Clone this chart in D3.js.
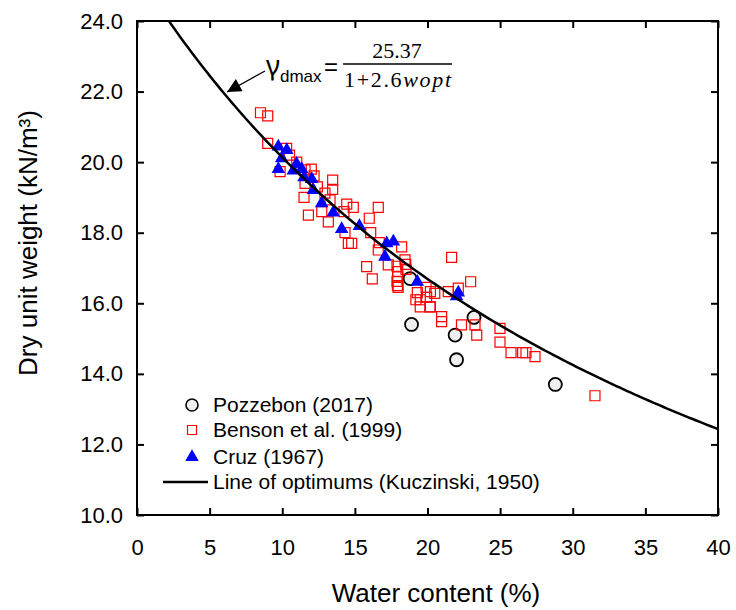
<!DOCTYPE html>
<html>
<head>
<meta charset="utf-8">
<script src="https://cdn.jsdelivr.net/npm/d3@7"></script>
<style>
  html, body { margin: 0; padding: 0; background: #fff; }
  svg { display: block; }
  text { fill: #000; }
</style>
</head>
<body>
<svg id="chart" width="736" height="610"></svg>
<script>
// Axis ticks
const xTicks = [0, 5, 10, 15, 20, 25, 30, 35, 40];
const yTicks = [10, 12, 14, 16, 18, 20, 22, 24];

// Pozzebon (2017): optimum water content (%) and max dry unit weight (kN/m3)
const pozzebonW = [18.8, 18.9, 21.9, 22.0, 23.2, 28.8];
const pozzebonG = [16.7, 15.4, 15.1, 14.4, 15.6, 13.7];

// Benson et al. (1999)
const bensonW = [8.5, 9.0, 9.0, 10.3, 9.85, 10.5, 11.57, 12.19, 11.57, 12.42,
  13.47, 13.47, 11.5, 12.94, 13.29, 14.44, 14.89, 16.61, 11.8, 12.72,
  13.17, 15.99, 14.25, 14.55, 14.78, 16.09, 16.61, 18.22, 18.45, 15.81,
  17.3, 14.32, 16.68, 16.2, 17.9, 17.95, 17.95, 17.9, 17.93, 17.98,
  18.52, 18.5, 21.66, 22.97, 19.9, 20.2, 20.5, 19.3, 19.2, 19.5,
  19.94, 19.5, 20.2, 21.43, 22.12, 20.97, 20.97, 22.34, 23.27, 23.39,
  24.99, 24.99, 25.75, 26.55, 26.78, 27.4, 31.53, 20.17, 12.0, 11.0];
const bensonG = [21.4, 21.31, 20.53, 20.39, 19.73, 20.2, 19.78, 19.61, 19.4, 19.3,
  19.49, 19.23, 19.0, 19.12, 18.93, 18.81, 18.72, 18.72, 18.5, 18.6,
  18.31, 18.41, 18.6, 17.7, 17.7, 18.0, 17.51, 17.6, 17.23, 17.04,
  17.09, 18.0, 17.72, 16.69, 17.05, 16.9, 16.75, 16.62, 16.5, 16.45,
  16.96, 17.1, 17.3, 16.61, 16.45, 16.33, 16.28, 16.3, 16.1, 16.1,
  16.17, 15.9, 15.9, 16.33, 16.43, 15.62, 15.48, 15.39, 15.39, 15.1,
  15.29, 14.9, 14.6, 14.6, 14.6, 14.49, 13.38, 15.9, 19.8, 20.0];

// Cruz (1967)
const cruzW = [9.73, 10.31, 9.96, 9.73, 10.99, 11.34, 10.76, 11.5, 12.03, 12.14,
  12.71, 13.51, 14.09, 15.31, 17.19, 17.65, 17.07, 19.3, 22.12, 22.0];
const cruzG = [20.44, 20.34, 20.11, 19.8, 19.95, 19.8, 19.76, 19.57, 19.52, 19.21,
  18.83, 18.57, 18.1, 18.19, 17.7, 17.75, 17.32, 16.61, 16.3, 16.2];

// Line of optimums (Kuczinski, 1950): gamma_dmax = 25.37 / (1 + 2.6 w_opt)
const optNum = 25.37;
const optCoef = 2.6;

const SANS = "'Liberation Sans', Arial, sans-serif";
const SERIF = "'Liberation Serif', 'DejaVu Serif', serif";

const svg = d3.select("#chart");
const plotL = 137, plotR = 718, plotT = 21, plotB = 515;

const x = d3.scaleLinear().domain([0, 40]).range([plotL, plotR]);
const y = d3.scaleLinear().domain([10, 24]).range([plotB, plotT]);

const fmtY = d3.format(".1f");

function styleTicks(g) {
  g.select(".domain").remove();
  g.selectAll("line").attr("stroke-width", 2);
  g.selectAll("text")
    .style("font-family", SANS)
    .style("font-size", "22px")
    .attr("fill", "#000");
}

// Axes with inward ticks on all four sides
svg.append("g")
  .attr("transform", `translate(0,${plotB})`)
  .call(d3.axisBottom(x).tickValues(xTicks).tickSizeInner(-7).tickSizeOuter(0).tickPadding(24))
  .call(styleTicks);

svg.append("g")
  .attr("transform", `translate(0,${plotT})`)
  .call(d3.axisTop(x).tickValues(xTicks).tickSizeInner(-7).tickSizeOuter(0).tickFormat(""))
  .call(styleTicks);

svg.append("g")
  .attr("transform", `translate(${plotL},0)`)
  .call(d3.axisLeft(y).tickValues(yTicks).tickSizeInner(-7).tickSizeOuter(0).tickPadding(14).tickFormat(fmtY))
  .call(styleTicks);

svg.append("g")
  .attr("transform", `translate(${plotR},0)`)
  .call(d3.axisRight(y).tickValues(yTicks).tickSizeInner(-7).tickSizeOuter(0).tickFormat(""))
  .call(styleTicks);

// Plot frame
svg.append("rect")
  .attr("x", plotL).attr("y", plotT)
  .attr("width", plotR - plotL).attr("height", plotB - plotT)
  .attr("fill", "none").attr("stroke", "#000").attr("stroke-width", 2);

// Clip for the curve
svg.append("clipPath").attr("id", "plotClip")
  .append("rect").attr("x", plotL).attr("y", plotT)
  .attr("width", plotR - plotL).attr("height", plotB - plotT);

// Pozzebon circles
svg.append("g").selectAll("circle")
  .data(d3.zip(pozzebonW, pozzebonG))
  .join("circle")
  .attr("cx", d => x(d[0])).attr("cy", d => y(d[1]))
  .attr("r", 6.5)
  .attr("fill", "#efefef").attr("stroke", "#000").attr("stroke-width", 1.8);

// Benson squares
const sq = d3.symbol().type(d3.symbolSquare).size(100);
svg.append("g").selectAll("path")
  .data(d3.zip(bensonW, bensonG))
  .join("path")
  .attr("d", sq)
  .attr("transform", d => `translate(${x(d[0])},${y(d[1])})`)
  .attr("fill", "none").attr("stroke", "#ff0000").attr("stroke-width", 1.2);

// Cruz triangles
const tri = d3.symbol().type(d3.symbolTriangle).size(80);
svg.append("g").selectAll("path")
  .data(d3.zip(cruzW, cruzG))
  .join("path")
  .attr("d", tri)
  .attr("transform", d => `translate(${x(d[0])},${y(d[1])})`)
  .attr("fill", "#0000ff");

// Line of optimums
const wSamples = d3.range(0, 40.01, 0.25);
const line = d3.line()
  .x(w => x(w))
  .y(w => y(optNum / (1 + optCoef * w / 100)));
svg.append("path")
  .datum(wSamples)
  .attr("d", line)
  .attr("clip-path", "url(#plotClip)")
  .attr("fill", "none").attr("stroke", "#000").attr("stroke-width", 2.5);

// Equation annotation with arrow
svg.append("defs").append("marker")
  .attr("id", "arrowHead")
  .attr("viewBox", "0 0 10 10")
  .attr("refX", 10).attr("refY", 5)
  .attr("markerWidth", 17).attr("markerHeight", 14)
  .attr("markerUnits", "userSpaceOnUse")
  .attr("orient", "auto")
  .append("path").attr("d", "M0,0 L10,5 L0,10 Z").attr("fill", "#000");

svg.append("line")
  .attr("x1", 265).attr("y1", 71)
  .attr("x2", 227).attr("y2", 92)
  .attr("stroke", "#000").attr("stroke-width", 1.3)
  .attr("marker-end", "url(#arrowHead)");

const eq = svg.append("g");
eq.append("text").attr("x", 266).attr("y", 75)
  .style("font-family", "'Noto Sans', 'DejaVu Sans', sans-serif")
  .style("font-size", "27px").text("γ");
eq.append("text").attr("x", 280).attr("y", 82)
  .style("font-family", SANS)
  .style("font-size", "17px").text("dmax");
eq.append("text").attr("x", 324).attr("y", 75)
  .style("font-family", SANS)
  .style("font-size", "24px").text("=");
eq.append("line").attr("x1", 343).attr("x2", 452).attr("y1", 64).attr("y2", 64)
  .attr("stroke", "#000").attr("stroke-width", 1.3);
eq.append("text").attr("x", 397).attr("y", 58)
  .attr("text-anchor", "middle")
  .style("font-family", SERIF)
  .style("font-size", "22px").text("25.37");
const den = eq.append("text").attr("x", 344).attr("y", 87)
  .style("font-family", SERIF)
  .style("font-size", "22px")
  .attr("textLength", 107).attr("lengthAdjust", "spacing");
den.append("tspan").text("1+2.6");
den.append("tspan").style("font-style", "italic").text("wopt");

// Legend
const legend = svg.append("g");
const lx = 192, tx = 213;
const rows = [405, 430, 457, 482];
legend.append("circle").attr("cx", lx).attr("cy", rows[0]).attr("r", 6)
  .attr("fill", "#efefef").attr("stroke", "#000").attr("stroke-width", 1.6);
legend.append("path").attr("d", d3.symbol().type(d3.symbolSquare).size(81))
  .attr("transform", `translate(${lx},${rows[1]})`)
  .attr("fill", "none").attr("stroke", "#ff0000").attr("stroke-width", 1.2);
legend.append("path").attr("d", d3.symbol().type(d3.symbolTriangle).size(80))
  .attr("transform", `translate(${lx},${rows[2]})`)
  .attr("fill", "#0000ff");
legend.append("line").attr("x1", 163).attr("x2", 208)
  .attr("y1", rows[3]).attr("y2", rows[3])
  .attr("stroke", "#000").attr("stroke-width", 2.5);
const labels = ["Pozzebon (2017)", "Benson et al. (1999)", "Cruz (1967)", "Line of optimums (Kuczinski, 1950)"];
legend.selectAll("text.lbl").data(labels).join("text")
  .attr("class", "lbl")
  .attr("x", tx).attr("y", (d, i) => rows[i])
  .attr("dy", "0.35em")
  .style("font-family", SANS)
  .style("font-size", "21px")
  .text(d => d);

// Axis titles
svg.append("text")
  .attr("x", 436).attr("y", 602)
  .attr("text-anchor", "middle")
  .style("font-family", SANS)
  .style("font-size", "26px")
  .text("Water content (%)");

svg.append("text")
  .attr("transform", "translate(37,243) rotate(-90)")
  .attr("text-anchor", "middle")
  .style("font-family", SANS)
  .style("font-size", "26px")
  .text("Dry unit weight (kN/m³)");
</script>
</body>
</html>
